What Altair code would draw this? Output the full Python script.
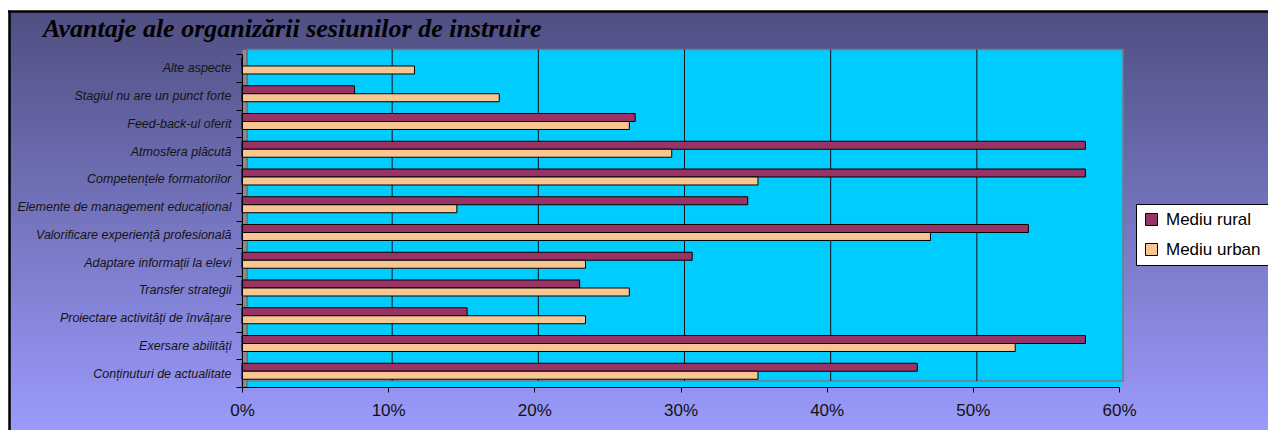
import altair as alt
import pandas as pd

# ---------------- data ----------------
title_text = "Avantaje ale organizării sesiunilor de instruire"
categories = [
    "Alte aspecte",
    "Stagiul nu are un punct forte",
    "Feed-back-ul oferit",
    "Atmosfera plăcută",
    "Competențele formatorilor",
    "Elemente de management educațional",
    "Valorificare experiență profesională",
    "Adaptare informații la elevi",
    "Transfer strategii",
    "Proiectare activități de învățare",
    "Exersare abilități",
    "Conținuturi de actualitate",
]
series = ["Mediu rural", "Mediu urban"]
rural = [0.0, 7.7, 26.9, 57.7, 57.7, 34.6, 53.8, 30.8, 23.1, 15.4, 57.7, 46.2]
urban = [11.8, 17.6, 26.5, 29.4, 35.3, 14.7, 47.1, 23.5, 26.5, 23.5, 52.9, 35.3]
tick_values = [0.0, 0.1, 0.2, 0.3, 0.4, 0.5, 0.6]
grid_values = [0.1, 0.2, 0.3, 0.4, 0.5]
colors = ["#993366", "#F8C692"]

rows = []
for c, r, u in zip(categories, rural, urban):
    rows.append({"cat": c, "series": series[0], "pct": r / 100})
    rows.append({"cat": c, "series": series[1], "pct": u / 100})
df = pd.DataFrame(rows)

# ---------------- layout ----------------
W, H = 877, 333
one = pd.DataFrame({"k": [0]})
xscale = alt.Scale(domain=[0, 0.6], nice=False, zero=True)
xaxis = alt.Axis(values=tick_values, format=".0%", title=None, grid=False,
                 labelFontSize=17, labelFont="Liberation Sans", labelColor="#111111",
                 labelPadding=10, tickSize=5, tickColor="black", domainColor="black",
                 labelFlush=False, zindex=2)

frame = alt.Chart(one).mark_rect(
    fill=alt.Gradient(
        gradient="linear",
        stops=[alt.GradientStop(color="#4F4F82", offset=0),
               alt.GradientStop(color="#9C9CFF", offset=1)],
        x1=0, x2=0, y1=0, y2=1),
).encode(x=alt.value(-233), x2=alt.value(1045), y=alt.value(-42.5), y2=alt.value(385))
frame_top = alt.Chart(one).mark_rule(color="black", strokeWidth=2.5).encode(
    x=alt.value(-234), x2=alt.value(1045), y=alt.value(-42.5))
frame_left = alt.Chart(one).mark_rule(color="black", strokeWidth=2.5).encode(
    x=alt.value(-232.5), y=alt.value(-43.5), y2=alt.value(385))

backwall = alt.Chart(one).mark_rect(fill="#00CCFF", stroke="#7A7A7A", strokeWidth=1.5).encode(
    x=alt.value(5), x2=alt.value(881), y=alt.value(-4.5), y2=alt.value(327))
floor = alt.Chart(one).mark_rect(fill="#00CCFF").encode(
    x=alt.value(0), x2=alt.value(879), y=alt.value(327.8), y2=alt.value(333))
sidewall = alt.Chart(one).mark_rect(fill="#8C8C8C", stroke="#5A5A5A", strokeWidth=0.8).encode(
    x=alt.value(0), x2=alt.value(5), y=alt.value(-4.5), y2=alt.value(333))

grid = alt.Chart(pd.DataFrame({"v": grid_values})).mark_rule(
    color="#111111", strokeWidth=1, xOffset=4
).encode(
    x=alt.X("v:Q", scale=xscale, axis=xaxis),
    y=alt.value(-4.5), y2=alt.value(327),
)

bars = alt.Chart(df).mark_bar(stroke="black", strokeWidth=1).encode(
    x=alt.X("pct:Q", scale=xscale, axis=xaxis),
    y=alt.Y("cat:N", sort=categories, title=None,
            scale=alt.Scale(paddingInner=0, paddingOuter=0),
            axis=alt.Axis(labelFontSize=12.5, labelFont="Liberation Sans", labelFontStyle="italic",
                          labelColor="#141414", tickSize=6, tickBand="extent", labelPadding=5,
                          tickColor="black", domainColor="black", labelLimit=400, zindex=2)),
    yOffset=alt.YOffset("series:N", sort=series,
                        scale=alt.Scale(paddingInner=0, paddingOuter=0.734, align=0.34)),
    color=alt.Color("series:N", sort=series,
                    scale=alt.Scale(domain=series, range=colors),
                    legend=alt.Legend(title=None, orient="none", legendX=894, legendY=150,
                                      fillColor="white", strokeColor="black", padding=7,
                                      rowPadding=12, symbolType="square", symbolSize=144,
                                      symbolStrokeColor="black", symbolStrokeWidth=1,
                                      labelFontSize=17, labelFont="Liberation Sans",
                                      labelColor="black", labelOffset=6, labelLimit=300,
                                      zindex=2)),
)

title = alt.Chart(pd.DataFrame({"t": [title_text]})).mark_text(
    font="Liberation Serif", fontSize=26, fontWeight="bold", fontStyle="italic",
    align="left", baseline="alphabetic", color="black",
).encode(text="t:N", x=alt.value(-199), y=alt.value(-17))

chart = alt.layer(frame, frame_top, frame_left, backwall, floor, sidewall, grid, bars, title).properties(
    width=W, height=H,
    autosize=alt.AutoSizeParams(type="none"),
    padding={"left": 234, "top": 46, "right": 149, "bottom": 43},
    background="white",
).configure_view(stroke=None)

chart.save("out.html", embed_options={"renderer": "svg", "actions": False})
